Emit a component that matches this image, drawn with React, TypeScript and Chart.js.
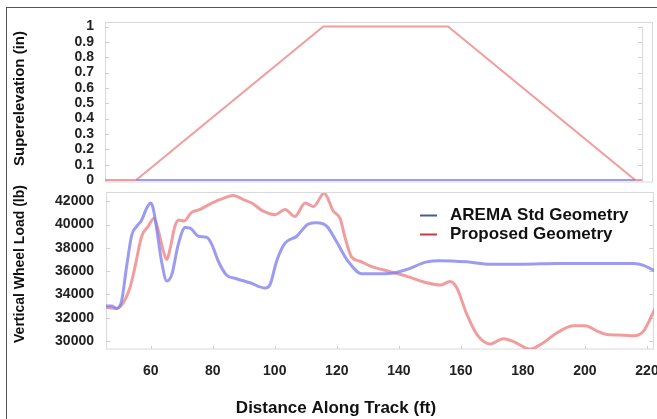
import React, { useEffect, useRef } from "react";
import { Chart, registerables } from "chart.js";

Chart.register(...registerables);

// ---------- data ----------
const seriesNames = ["AREMA Std Geometry", "Proposed Geometry"];

// Superelevation panel
const superTicks = [0, 0.1, 0.2, 0.3, 0.4, 0.5, 0.6, 0.7, 0.8, 0.9, 1];
const supAremaX = [55, 215];
const supAremaY = [0, 0];
const supPropX = [45, 55, 115, 155, 215, 217.2];
const supPropY = [0, 0, 1, 1, 0, 0];

// Vertical wheel load panel
const loadTicks = [30000, 32000, 34000, 36000, 38000, 40000, 42000];
const distTicks = [60, 80, 100, 120, 140, 160, 180, 200, 220];

const aremaX = [
  45.6, 47.4, 49.0, 50.6, 52.3, 53.9, 55.5, 57.1, 58.7, 60.0, 60.8, 61.9, 63.5, 65.2, 66.8, 68.9,
  71.1, 72.7, 75.4, 78.1, 79.7, 81.8, 84.5, 87.7, 92.0, 96.9, 98.5, 100.6, 103.3, 107.1, 110.8,
  113.5, 116.8, 120.0, 123.5, 128.1, 131.8, 138.3, 142.6, 149.0, 153.3, 161.9, 169.5, 180.2,
  191.0, 201.7, 215.7, 218.9, 222.7,
];
const aremaY = [
  33000, 33000, 32800, 33400, 36500, 39100, 39850, 40400, 41400, 41850, 41400, 39700, 36850, 35150,
  35700, 38300, 39750, 39700, 39000, 38900, 38300, 36850, 35650, 35350, 35000, 34550, 34850, 36850,
  38400, 39000, 40050, 40150, 39850, 38500, 36900, 35770, 35770, 35850, 36150, 36800, 36900, 36800,
  36600, 36600, 36650, 36650, 36650, 36500, 36000,
];

const propX = [
  45.6, 49.0, 51.2, 53.3, 54.9, 57.1, 59.2, 61.1, 62.5, 64.1, 65.2, 66.2, 67.8, 69.1, 70.7, 73.2,
  75.9, 79.7, 83.4, 86.6, 89.9, 92.6, 96.3, 100.1, 103.3, 106.5, 109.8, 112.5, 115.9, 118.9, 121.1,
  122.7, 124.8, 127.5, 130.7, 137.2, 142.6, 149.0, 153.3, 156.5, 158.7, 161.9, 165.2, 169.5, 173.7,
  177.0, 182.4, 186.6, 191.0, 196.3, 200.1, 203.9, 207.1, 212.5, 215.7, 218.9, 222.7,
];
const propY = [
  32900, 32800, 33300, 34550, 36300, 39000, 39850, 40550, 39450, 37700, 37000, 37850, 39850, 40400,
  40300, 41050, 41300, 41850, 42250, 42500, 42150, 41850, 41150, 40850, 41300, 40700, 41850, 41550,
  42700, 41150, 40500, 38850, 37200, 36850, 36450, 35950, 35550, 35000, 34800, 35100, 34550, 32300,
  30550, 29750, 30200, 29950, 29300, 29850, 30700, 31300, 31300, 30850, 30550, 30500, 30450, 30850,
  32850,
];

const topYTitle = "Superelevation (in)";
const botYTitle = "Vertical Wheel Load (lb)";
const xTitle = "Distance Along Track (ft)";

// ---------- styles ----------
const FONT = '"Liberation Sans", Arial, sans-serif';
const BLUE = "rgba(130,130,238,0.8)";
const RED = "rgba(240,140,140,0.85)";
const FRAME = "#d9d9d9";
const TICKC = "#cfcfcf";

const pts = (xs: number[], ys: number[]) => xs.map((x, i) => ({ x, y: ys[i] }));

function drawRotated(ctx: CanvasRenderingContext2D, text: string, x: number, y: number, size: number) {
  ctx.save();
  ctx.translate(x, y);
  ctx.rotate(-Math.PI / 2);
  ctx.font = `bold ${size}px ${FONT}`;
  ctx.fillStyle = "#111";
  ctx.textAlign = "center";
  ctx.textBaseline = "middle";
  ctx.fillText(text, 0, 0);
  ctx.restore();
}

export default function App() {
  const topRef = useRef<HTMLCanvasElement>(null);
  const botRef = useRef<HTMLCanvasElement>(null);

  useEffect(() => {
    const topPlugin = {
      id: "topDecor",
      beforeDatasetsDraw(chart: any) {
        const ctx = chart.ctx as CanvasRenderingContext2D;
        const { left, right, top, bottom } = chart.chartArea;
        const ys = chart.scales.y;
        ctx.save();
        ctx.strokeStyle = FRAME;
        ctx.lineWidth = 1;
        ctx.strokeRect(left + 0.5, top - 0.5, right + 10 - left, bottom - top + 0.5);
        ctx.beginPath();
        ctx.moveTo(right + 0.5, ys.getPixelForValue(1));
        ctx.lineTo(right + 0.5, bottom);
        ctx.stroke();
        ctx.strokeStyle = TICKC;
        ctx.beginPath();
        for (const v of superTicks) {
          const p = Math.round(ys.getPixelForValue(v)) + 0.5;
          ctx.moveTo(left, p);
          ctx.lineTo(left + 4, p);
          ctx.moveTo(right - 4, p);
          ctx.lineTo(right, p);
        }
        ctx.stroke();
        ctx.restore();
      },
      afterDraw(chart: any) {
        drawRotated(chart.ctx, topYTitle, 20, 98.5, 15);
      },
    };

    const botPlugin = {
      id: "botDecor",
      beforeDatasetsDraw(chart: any) {
        const ctx = chart.ctx as CanvasRenderingContext2D;
        const { left, right, top, bottom } = chart.chartArea;
        const ys = chart.scales.y;
        const xs = chart.scales.x;
        ctx.save();
        ctx.strokeStyle = FRAME;
        ctx.lineWidth = 1;
        ctx.strokeRect(left + 0.5, top - 0.5, right - left - 1, bottom - top + 0.5);
        ctx.strokeStyle = TICKC;
        ctx.beginPath();
        for (const v of loadTicks) {
          const p = Math.round(ys.getPixelForValue(v)) + 0.5;
          ctx.moveTo(left, p);
          ctx.lineTo(left + 4, p);
          ctx.moveTo(right - 5, p);
          ctx.lineTo(right - 1, p);
        }
        for (const v of distTicks) {
          const p = Math.round(xs.getPixelForValue(v)) + 0.5;
          ctx.moveTo(p, bottom);
          ctx.lineTo(p, bottom - 3);
        }
        ctx.stroke();
        ctx.restore();
      },
      afterDraw(chart: any) {
        const ctx = chart.ctx as CanvasRenderingContext2D;
        drawRotated(ctx, botYTitle, 20, 264 - 185, 14);
        ctx.save();
        ctx.font = `bold 17px ${FONT}`;
        ctx.fillStyle = "#111";
        ctx.textAlign = "center";
        ctx.textBaseline = "middle";
        ctx.fillText(xTitle, 336, 408 - 185);
        // legend
        const rows = [
          { label: seriesNames[0], color: "#4b5a86", y: 215 - 185 },
          { label: seriesNames[1], color: "#c43c42", y: 234 - 185 },
        ];
        ctx.textAlign = "left";
        for (const r of rows) {
          ctx.strokeStyle = r.color;
          ctx.lineWidth = 2;
          ctx.beginPath();
          ctx.moveTo(420, r.y + 0.5);
          ctx.lineTo(437, r.y + 0.5);
          ctx.stroke();
          ctx.fillText(r.label, 450, r.y);
        }
        ctx.restore();
      },
    };

    const tickFont = { family: FONT, size: 14, weight: "bold" as const };

    const top = new Chart(topRef.current!, {
      type: "line",
      data: {
        datasets: [
          {
            label: seriesNames[0],
            data: pts(supAremaX, supAremaY),
            borderColor: BLUE,
            borderWidth: 2,
            pointRadius: 0,
          },
          {
            label: seriesNames[1],
            data: pts(supPropX, supPropY),
            borderColor: RED,
            borderWidth: 2,
            pointRadius: 0,
          },
        ],
      },
      options: {
        animation: false,
        responsive: false,
        maintainAspectRatio: false,
        layout: { padding: { left: 0, top: 23, right: 15, bottom: 8 } },
        plugins: { legend: { display: false }, tooltip: { enabled: false } },
        scales: {
          x: {
            type: "linear",
            min: 45,
            max: 217.2,
            ticks: { display: false },
            grid: { display: false },
            border: { display: false },
            afterFit: (s: any) => {
              s.height = 0;
              s.paddingLeft = 0;
              s.paddingRight = 0;
            },
          },
          y: {
            type: "linear",
            min: -0.013,
            max: 1.023,
            afterBuildTicks: (s: any) => {
              s.ticks = superTicks.map((v) => ({ value: v }));
            },
            ticks: {
              padding: 3,
              color: "#222",
              font: tickFont,
              autoSkip: false,
              callback: (v: any) => String(v),
            },
            grid: { display: false },
            border: { display: false },
            afterFit: (s: any) => {
              s.width = 105;
              s.paddingTop = 0;
              s.paddingBottom = 0;
            },
          },
        },
      },
      plugins: [topPlugin],
    });

    const bot = new Chart(botRef.current!, {
      type: "line",
      data: {
        datasets: [
          {
            label: seriesNames[0],
            data: pts(aremaX, aremaY),
            borderColor: BLUE,
            borderWidth: 3,
            pointRadius: 0,
            cubicInterpolationMode: "monotone",
          },
          {
            label: seriesNames[1],
            data: pts(propX, propY),
            borderColor: RED,
            borderWidth: 3,
            pointRadius: 0,
            cubicInterpolationMode: "monotone",
          },
        ],
      },
      options: {
        animation: false,
        responsive: false,
        maintainAspectRatio: false,
        layout: { padding: { left: 0, top: 8, right: 3, bottom: 0 } },
        plugins: { legend: { display: false }, tooltip: { enabled: false } },
        scales: {
          x: {
            type: "linear",
            min: 45.6,
            max: 222.26,
            afterBuildTicks: (s: any) => {
              s.ticks = distTicks.map((v) => ({ value: v }));
            },
            ticks: { padding: 6, color: "#222", font: tickFont, maxRotation: 0, autoSkip: false },
            grid: { display: false },
            border: { display: false },
            afterFit: (s: any) => {
              s.height = 70;
              s.paddingLeft = 0;
              s.paddingRight = 0;
            },
          },
          y: {
            type: "linear",
            min: 29310,
            max: 42715,
            afterBuildTicks: (s: any) => {
              s.ticks = loadTicks.map((v) => ({ value: v }));
            },
            ticks: {
              padding: 4,
              color: "#222",
              font: tickFont,
              autoSkip: false,
              callback: (v: any) => String(v),
            },
            grid: { display: false },
            border: { display: false },
            afterFit: (s: any) => {
              s.width = 106;
              s.paddingTop = 0;
              s.paddingBottom = 0;
            },
          },
        },
      },
      plugins: [botPlugin],
    });

    return () => {
      top.destroy();
      bot.destroy();
    };
  }, []);

  return (
    <div
      style={{
        position: "absolute",
        left: 0,
        top: 0,
        width: 657,
        height: 419,
        background: "#fff",
        overflow: "hidden",
      }}
    >
      <div
        style={{
          position: "absolute",
          left: 6,
          top: 7,
          right: 0,
          bottom: 0,
          borderLeft: "1.5px solid #555",
          borderTop: "1.5px solid #555",
        }}
      />
      <canvas
        ref={topRef}
        width={657}
        height={190}
        style={{ position: "absolute", left: 0, top: 0, width: 657, height: 190 }}
      />
      <canvas
        ref={botRef}
        width={657}
        height={234}
        style={{ position: "absolute", left: 0, top: 185, width: 657, height: 234 }}
      />
    </div>
  );
}
